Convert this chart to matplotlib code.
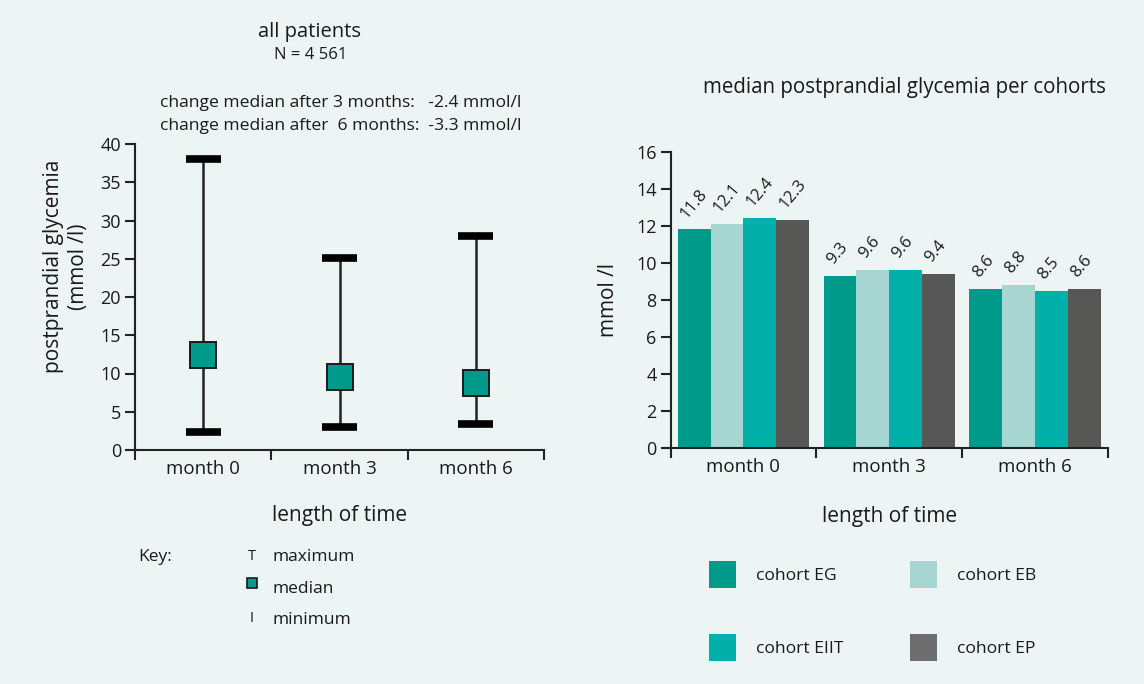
import matplotlib
matplotlib.use("Agg")
import matplotlib.pyplot as plt
from matplotlib.patches import Rectangle
import numpy as np

plt.rcParams['font.family'] = ['Open Sans', 'DejaVu Sans']

# ---- data ----
months = ["month 0", "month 3", "month 6"]
glyc_max = [38.0, 25.1, 28.0]
glyc_median = [12.4, 9.6, 8.7]
glyc_min = [2.3, 3.0, 3.4]

cohorts = ["cohort EG", "cohort EB", "cohort EIIT", "cohort EP"]
cohort_EG = [11.8, 9.3, 8.6]
cohort_EB = [12.1, 9.6, 8.8]
cohort_EIIT = [12.4, 9.6, 8.5]
cohort_EP = [12.3, 9.4, 8.6]
cohort_values = [cohort_EG, cohort_EB, cohort_EIIT, cohort_EP]
bar_colors = ["#009a8b", "#a6d5d2", "#00b0a9", "#575756"]
legend_colors = ["#009a8b", "#a6d5d2", "#00b0a9", "#6e6e6e"]

BG = "#ecf5f4"
TXT = "#1a1a1a"
W, H = 1144, 684

fig = plt.figure(figsize=(W / 100, H / 100), dpi=100, facecolor=BG)

def fx(px):
    return px / W

def fy(py):
    return 1 - py / H

# ---- left panel ----
axL = fig.add_axes([fx(135), fy(450), fx(544 - 135), (450 - 144) / H])
axL.set_facecolor(BG)
x = np.arange(len(months))
axL.vlines(x, glyc_min, glyc_max, color="#222222", lw=1.8, zorder=2)
axL.hlines(glyc_max, x - 0.128, x + 0.128, color="black", lw=5.5, zorder=3)
axL.hlines(glyc_min, x - 0.128, x + 0.128, color="black", lw=5.5, zorder=3)
axL.plot(x, glyc_median, ls="none", marker="s", markersize=18.5,
         markerfacecolor="#009a8b", markeredgecolor="#1a1a1a", markeredgewidth=1.4, zorder=4)
axL.set_xlim(-0.5, 2.5)
axL.set_ylim(0, 40)
axL.set_yticks(np.arange(0, 41, 5))
axL.set_xticks([-0.5, 0.5, 1.5, 2.5])
axL.set_xticklabels([])
axL.set_xticks(x, minor=True)
axL.set_xticklabels(months, minor=True)
axL.tick_params(axis="x", which="minor", length=0, pad=7, labelsize=13.5, labelcolor=TXT)
axL.tick_params(axis="x", which="major", length=7, width=1.5, color="#222222")
axL.tick_params(axis="y", length=7, width=1.5, color="#222222", labelsize=13, labelcolor=TXT, pad=3)
for s in ["top", "right"]:
    axL.spines[s].set_visible(False)
for s in ["left", "bottom"]:
    axL.spines[s].set_linewidth(1.5)
    axL.spines[s].set_color("#222222")
axL.set_ylabel("postprandial glycemia\n(mmol /l)", fontsize=15, color=TXT, linespacing=1.25)
axL.yaxis.set_label_coords(-0.112, 0.6)
axL.set_xlabel("length of time", fontsize=15, color=TXT, labelpad=20)

fig.text(fx(310), fy(32), "all patients", ha="center", va="center", fontsize=14.5, color=TXT)
fig.text(fx(311), fy(55), "N = 4 561", ha="center", va="center", fontsize=12, color=TXT)
fig.text(fx(160), fy(103), "change median after 3 months:   -2.4 mmol/l", ha="left", va="center", fontsize=12.6, color=TXT)
fig.text(fx(160), fy(126), "change median after  6 months:  -3.3 mmol/l", ha="left", va="center", fontsize=12.6, color=TXT)

# key
fig.text(fx(138), fy(557), "Key:", ha="left", va="center", fontsize=12.5, color=TXT)
fig.text(fx(252), fy(556), "T", ha="center", va="center", fontsize=10.5, color=TXT)
fig.add_artist(Rectangle((fx(247), fy(588)), fx(10), 10 / H, transform=fig.transFigure,
                         facecolor="#009a8b", edgecolor="#1a1a1a", lw=1.2))
fig.text(fx(252), fy(618), "I", ha="center", va="center", fontsize=10.5, color=TXT)
fig.text(fx(273), fy(557), "maximum", ha="left", va="center", fontsize=12.5, color=TXT)
fig.text(fx(273), fy(589), "median", ha="left", va="center", fontsize=12.5, color=TXT)
fig.text(fx(273), fy(620), "minimum", ha="left", va="center", fontsize=12.5, color=TXT)

# ---- right panel ----
axR = fig.add_axes([fx(670.5), fy(448), fx(1108 - 670.5), (448 - 151.7) / H])
axR.set_facecolor(BG)
bw = 0.225
n = len(cohorts)
for i, (vals, c) in enumerate(zip(cohort_values, bar_colors)):
    pos = x + (i - (n - 1) / 2) * bw
    bars = axR.bar(pos, vals, width=bw, color=c, edgecolor="none", zorder=2)
    for b, v in zip(bars, vals):
        axR.annotate(f"{v:.1f}", (b.get_x() + b.get_width() / 2, v),
                     xytext=(-3, 6), textcoords="offset points",
                     rotation=50, rotation_mode="anchor", ha="left", va="bottom",
                     fontsize=12, color=TXT)
axR.set_xlim(-0.5, 2.5)
axR.set_ylim(0, 16)
axR.set_yticks(np.arange(0, 17, 2))
axR.set_xticks([-0.5, 0.5, 1.5, 2.5])
axR.set_xticklabels([])
axR.set_xticks(x, minor=True)
axR.set_xticklabels(months, minor=True)
axR.tick_params(axis="x", which="minor", length=0, pad=7, labelsize=13.5, labelcolor=TXT)
axR.tick_params(axis="x", which="major", length=7, width=1.5, color="#222222")
axR.tick_params(axis="y", length=7, width=1.5, color="#222222", labelsize=13, labelcolor=TXT, pad=3)
for s in ["top", "right"]:
    axR.spines[s].set_visible(False)
for s in ["left", "bottom"]:
    axR.spines[s].set_linewidth(1.5)
    axR.spines[s].set_color("#222222")
axR.set_ylabel("mmol /l", fontsize=15, color=TXT, labelpad=12)
axR.set_xlabel("length of time", fontsize=15, color=TXT, labelpad=22)

fig.text(fx(904), fy(88), "median postprandial glycemia per cohorts", ha="center", va="center",
         fontsize=14.8, color=TXT)

# legend
leg_pos = [(709, 561), (910, 561), (709, 634), (910, 634)]
for (lx, ly), name, c in zip(leg_pos, cohorts, legend_colors):
    fig.add_artist(Rectangle((fx(lx), fy(ly + 27)), fx(27), 27 / H, transform=fig.transFigure,
                             facecolor=c, edgecolor="none"))
    fig.text(fx(lx + 47), fy(ly + 15), name, ha="left", va="center", fontsize=12.6, color=TXT)

fig.savefig("out.png", dpi=100, facecolor=BG)
